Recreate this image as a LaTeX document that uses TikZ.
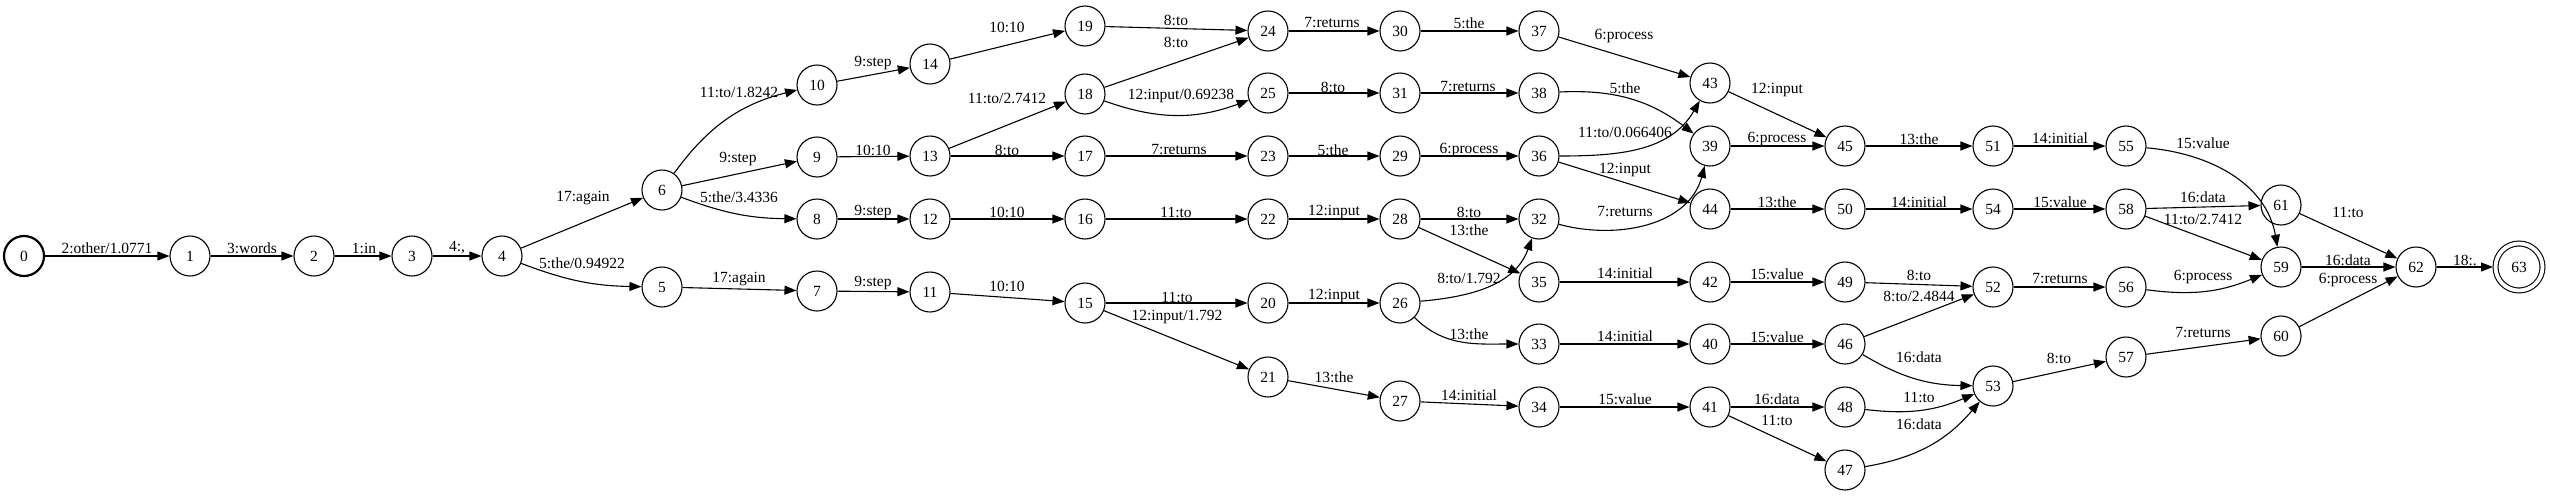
\documentclass[tikz,border=0pt]{standalone}
\usepackage{fontspec}
\setmainfont{Liberation Serif}
\usetikzlibrary{arrows.meta}

\tikzset{every picture/.style={line width=0.55pt}}
\tikzset{
  state/.style={draw, circle, minimum size=20pt, inner sep=0pt, font=\fontsize{7.75}{9}\selectfont},
  start/.style={state, line width=1.1pt},
  final/.style={state, minimum size=23.5pt, double, double distance=1.9pt, outer sep=1.25pt},
  edge/.style={-{Triangle[length=6pt,width=4.5pt]}},
  lbl/.style={inner sep=0pt, font=\fontsize{7.75}{9}\selectfont},
}

\begin{document}
\begin{tikzpicture}[x=0.5pt,y=0.5pt]
\useasboundingbox (0,0) rectangle (2550,495);

% states
\node [start] (s0) at (24,239) {0};
\node [state] (s1) at (190,239) {1};
\node [state] (s2) at (314,239) {2};
\node [state] (s3) at (412,239) {3};
\node [state] (s4) at (502,239) {4};
\node [state] (s5) at (662,208) {5};
\node [state] (s6) at (662,305) {6};
\node [state] (s7) at (817,204) {7};
\node [state] (s8) at (817,276) {8};
\node [state] (s9) at (817,338) {9};
\node [state] (s10) at (817,410) {10};
\node [state] (s11) at (930,203) {11};
\node [state] (s12) at (930,276) {12};
\node [state] (s13) at (930,339) {13};
\node [state] (s14) at (930,431) {14};
\node [state] (s15) at (1085,192) {15};
\node [state] (s16) at (1085,276) {16};
\node [state] (s17) at (1085,339) {17};
\node [state] (s18) at (1085,401) {18};
\node [state] (s19) at (1085,469) {19};
\node [state] (s20) at (1268,192) {20};
\node [state] (s21) at (1268,118) {21};
\node [state] (s22) at (1268,276) {22};
\node [state] (s23) at (1268,339) {23};
\node [state] (s24) at (1268,464) {24};
\node [state] (s25) at (1268,402) {25};
\node [state] (s26) at (1400,192) {26};
\node [state] (s27) at (1400,94) {27};
\node [state] (s28) at (1400,276) {28};
\node [state] (s29) at (1400,339) {29};
\node [state] (s30) at (1400,464) {30};
\node [state] (s31) at (1400,402) {31};
\node [state] (s32) at (1539,276) {32};
\node [state] (s33) at (1539,151) {33};
\node [state] (s34) at (1539,88) {34};
\node [state] (s35) at (1539,213) {35};
\node [state] (s36) at (1539,339) {36};
\node [state] (s37) at (1539,464) {37};
\node [state] (s38) at (1539,402) {38};
\node [state] (s39) at (1710,349) {39};
\node [state] (s40) at (1710,151) {40};
\node [state] (s41) at (1710,88) {41};
\node [state] (s42) at (1710,213) {42};
\node [state] (s43) at (1710,412) {43};
\node [state] (s44) at (1710,286) {44};
\node [state] (s45) at (1845,349) {45};
\node [state] (s46) at (1845,151) {46};
\node [state] (s47) at (1845,25) {47};
\node [state] (s48) at (1845,88) {48};
\node [state] (s49) at (1845,213) {49};
\node [state] (s50) at (1845,286) {50};
\node [state] (s51) at (1993,349) {51};
\node [state] (s52) at (1993,208) {52};
\node [state] (s53) at (1993,109) {53};
\node [state] (s54) at (1993,286) {54};
\node [state] (s55) at (2126,349) {55};
\node [state] (s56) at (2126,208) {56};
\node [state] (s57) at (2126,138) {57};
\node [state] (s58) at (2126,286) {58};
\node [state] (s59) at (2281,228) {59};
\node [state] (s60) at (2281,159) {60};
\node [state] (s61) at (2281,290) {61};
\node [state] (s62) at (2416,228) {62};
\node [final] (s63) at (2519,228) {63};

% arcs
\draw [edge] (s0) -- (s1) node [lbl] (l0-1) at (107,247) {2:other/1.0771};
\draw [edge] (s1) -- (s2) node [lbl] (l1-2) at (252,247) {3:words};
\draw [edge] (s2) -- (s3) node [lbl] (l2-3) at (364,247) {1:in};
\draw [edge] (s3) -- (s4) node [lbl] (l3-4) at (457,247) {4:,};
\draw [edge] (s4) -- (s6) node [lbl] (l4-6) at (583,297) {17:again};
\draw [edge] (s4) to [bend right=10] (s5) node [lbl] (l4-5) at (582,232) {5:the/0.94922};
\draw [edge] (s6) to [bend left=20] (s10) node [lbl] (l6-10) at (739,403) {11:to/1.8242};
\draw [edge] (s6) -- (s9) node [lbl] (l6-9) at (738,336) {9:step};
\draw [edge] (s6) to [bend right=10] (s8) node [lbl] (l6-8) at (739,298) {5:the/3.4336};
\draw [edge] (s5) -- (s7) node [lbl] (l5-7) at (739,216) {17:again};
\draw [edge] (s10) -- (s14) node [lbl] (l10-14) at (873,432) {9:step};
\draw [edge] (s14) -- (s19) node [lbl] (l14-19) at (1007,468) {10:10};
\draw [edge] (s9) -- (s13) node [lbl] (l9-13) at (873,345) {10:10};
\draw [edge] (s13) -- (s18) node [lbl] (l13-18) at (1007,397) {11:to/2.7412};
\draw [edge] (s13) -- (s17) node [lbl] (l13-17) at (1007,345) {8:to};
\draw [edge] (s8) -- (s12) node [lbl] (l8-12) at (873,283) {9:step};
\draw [edge] (s12) -- (s16) node [lbl] (l12-16) at (1007,283) {10:10};
\draw [edge] (s7) -- (s11) node [lbl] (l7-11) at (873,212) {9:step};
\draw [edge] (s11) -- (s15) node [lbl] (l11-15) at (1007,209) {10:10};
\draw [edge] (s19) -- (s24) node [lbl] (l19-24) at (1176,475) {8:to};
\draw [edge] (s18) -- (s24) node [lbl] (l18-24) at (1176,453) {8:to};
\draw [edge] (s18) to [bend right=20] (s25) node [lbl] (l18-25) at (1181,399) {12:input/0.69238};
\draw [edge] (s17) -- (s23) node [lbl] (l17-23) at (1179,345) {7:returns};
\draw [edge] (s16) -- (s22) node [lbl] (l16-22) at (1176,283) {11:to};
\draw [edge] (s15) -- (s20) node [lbl] (l15-20) at (1177,198) {11:to};
\draw [edge] (s15) -- (s21) node [lbl] (l15-21) at (1177,178) {12:input/1.792};
\draw [edge] (s24) -- (s30) node [lbl] (l24-30) at (1332,472) {7:returns};
\draw [edge] (s25) -- (s31) node [lbl] (l25-31) at (1333,408) {8:to};
\draw [edge] (s23) -- (s29) node [lbl] (l23-29) at (1333,345) {5:the};
\draw [edge] (s22) -- (s28) node [lbl] (l22-28) at (1334,283) {12:input};
\draw [edge] (s20) -- (s26) node [lbl] (l20-26) at (1334,199) {12:input};
\draw [edge] (s21) -- (s27) node [lbl] (l21-27) at (1334,118) {13:the};
\draw [edge] (s30) -- (s37) node [lbl] (l30-37) at (1469,472) {5:the};
\draw [edge] (s31) -- (s38) node [lbl] (l31-38) at (1468,408) {7:returns};
\draw [edge] (s29) -- (s36) node [lbl] (l29-36) at (1469,345) {6:process};
\draw [edge] (s28) -- (s32) node [lbl] (l28-32) at (1469,283) {8:to};
\draw [edge] (s28) -- (s35) node [lbl] (l28-35) at (1469,265) {13:the};
\draw [edge] (s26) to [out=5,in=250] (s32) node [lbl] (l26-32) at (1469,217) {8:to/1.792};
\draw [edge] (s26) to [out=-45,in=180] (s33) node [lbl] (l26-33) at (1469,161) {13:the};
\draw [edge] (s27) -- (s34) node [lbl] (l27-34) at (1469,100) {14:initial};
\draw [edge] (s37) -- (s43) node [lbl] (l37-43) at (1624,459) {6:process};
\draw [edge] (s38) to [bend left=20] (s39) node [lbl] (l38-39) at (1625,407) {5:the};
\draw [edge] (s36) to [out=0,in=240] (s43) node [lbl] (l36-43) at (1625,363) {11:to/0.066406};
\draw [edge] (s36) -- (s44) node [lbl] (l36-44) at (1625,325) {12:input};
\draw [edge] (s32) to [out=-15,in=255] (s39) node [lbl] (l32-39) at (1625,283) {7:returns};
\draw [edge] (s35) -- (s42) node [lbl] (l35-42) at (1625,222) {14:initial};
\draw [edge] (s33) -- (s40) node [lbl] (l33-40) at (1625,159) {14:initial};
\draw [edge] (s34) -- (s41) node [lbl] (l34-41) at (1625,96) {15:value};
\draw [edge] (s43) -- (s45) node [lbl] (l43-45) at (1777,405) {12:input};
\draw [edge] (s39) -- (s45) node [lbl] (l39-45) at (1777,356) {6:process};
\draw [edge] (s44) -- (s50) node [lbl] (l44-50) at (1777,293) {13:the};
\draw [edge] (s42) -- (s49) node [lbl] (l42-49) at (1777,221) {15:value};
\draw [edge] (s40) -- (s46) node [lbl] (l40-46) at (1777,158) {15:value};
\draw [edge] (s41) -- (s48) node [lbl] (l41-48) at (1777,96) {16:data};
\draw [edge] (s41) -- (s47) node [lbl] (l41-47) at (1777,75) {11:to};
\draw [edge] (s45) -- (s51) node [lbl] (l45-51) at (1919,356) {13:the};
\draw [edge] (s50) -- (s54) node [lbl] (l50-54) at (1919,293) {14:initial};
\draw [edge] (s49) -- (s52) node [lbl] (l49-52) at (1919,220) {8:to};
\draw [edge] (s46) -- (s52) node [lbl] (l46-52) at (1919,199) {8:to/2.4844};
\draw [edge] (s46) to [bend right=15] (s53) node [lbl] (l46-53) at (1919,138) {16:data};
\draw [edge] (s48) to [bend right=15] (s53) node [lbl] (l48-53) at (1919,98) {11:to};
\draw [edge] (s47) to [bend right=20] (s53) node [lbl] (l47-53) at (1919,71) {16:data};
\draw [edge] (s51) -- (s55) node [lbl] (l51-55) at (2060,357) {14:initial};
\draw [edge] (s54) -- (s58) node [lbl] (l54-58) at (2060,293) {15:value};
\draw [edge] (s52) -- (s56) node [lbl] (l52-56) at (2060,216) {7:returns};
\draw [edge] (s53) -- (s57) node [lbl] (l53-57) at (2059,137) {8:to};
\draw [edge] (s55) to [out=-5,in=100] (s59) node [lbl] (l55-59) at (2203,352) {15:value};
\draw [edge] (s58) -- (s61) node [lbl] (l58-61) at (2203,298) {16:data};
\draw [edge] (s58) -- (s59) node [lbl] (l58-59) at (2203,276) {11:to/2.7412};
\draw [edge] (s56) to [bend right=15] (s59) node [lbl] (l56-59) at (2203,218) {6:process};
\draw [edge] (s57) -- (s60) node [lbl] (l57-60) at (2203,162) {7:returns};
\draw [edge] (s61) -- (s62) node [lbl] (l61-62) at (2348,283) {11:to};
\draw [edge] (s59) -- (s62) node [lbl] (l59-62) at (2348,235) {16:data};
\draw [edge] (s60) -- (s62) node [lbl] (l60-62) at (2348,215) {6:process};
\draw [edge] (s62) -- (s63) node [lbl] (l62-63) at (2465,235) {18:.};

\end{tikzpicture}
\end{document}
